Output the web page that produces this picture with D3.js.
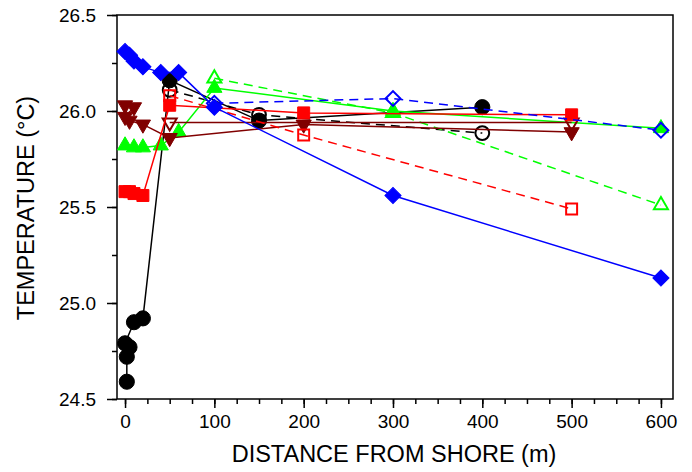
<!DOCTYPE html>
<html>
<head>
<meta charset="utf-8">
<script src="https://cdn.jsdelivr.net/npm/d3@7"></script>
<style>
	body { margin: 0; background: #fff; }
	text { font-family: "Liberation Sans", Arial, sans-serif; }
</style>
</head>
<body>
<div id="chart"></div>
<script>
// distance from shore (m) and temperature (C) for each transect
var blueFilledX = [0, 5, 10, 20, 40, 60, 100, 300, 600];
var blueFilledY = [26.31, 26.29, 26.26, 26.23, 26.20, 26.20, 26.02, 25.56, 25.13];
var blueOpenX = [100, 300, 600];
var blueOpenY = [26.04, 26.065, 25.90];

var blackFilledX = [2, 2, 5, 0, 10, 20, 50, 150, 400];
var blackFilledY = [24.59, 24.72, 24.77, 24.79, 24.90, 24.92, 26.16, 25.95, 26.02];
var blackOpenX = [50, 150, 400];
var blackOpenY = [26.11, 25.98, 25.885];

var redFilledX = [0, 5, 10, 20, 50, 200, 500];
var redFilledY = [25.58, 25.58, 25.57, 25.56, 26.03, 25.99, 25.98];
var redOpenX = [50, 200, 500];
var redOpenY = [26.08, 25.875, 25.49];

var greenFilledX = [0, 10, 20, 40, 60, 100, 300, 600];
var greenFilledY = [25.82, 25.81, 25.81, 25.82, 25.89, 26.12, 26.00, 25.91];
var greenOpenX = [100, 300, 600];
var greenOpenY = [26.17, 25.99, 25.51];

var brownFilledX = [0, 10, 0, 5, 20, 50, 200, 500];
var brownFilledY = [26.03, 26.02, 25.97, 25.95, 25.93, 25.86, 25.93, 25.89];
var brownOpenX = [50, 500];
var brownOpenY = [25.94, 25.94];

var xTicks = [0, 100, 200, 300, 400, 500, 600];
var yTicks = [24.5, 25.0, 25.5, 26.0, 26.5];

var series = [
	{x: blackOpenX, y: blackOpenY, color: "#000000", shape: "circle", open: true, dash: true},
	{x: blackFilledX, y: blackFilledY, color: "#000000", shape: "circle", open: false, dash: false},
	{x: greenFilledX, y: greenFilledY, color: "#00ff00", shape: "triangle", open: false, dash: false},
	{x: greenOpenX, y: greenOpenY, color: "#00ff00", shape: "triangle", open: true, dash: true},
	{x: brownOpenX, y: brownOpenY, color: "#800000", shape: "down", open: true, dash: false},
	{x: brownFilledX, y: brownFilledY, color: "#800000", shape: "down", open: false, dash: false},
	{x: redOpenX, y: redOpenY, color: "#ff0000", shape: "square", open: true, dash: true},
	{x: redFilledX, y: redFilledY, color: "#ff0000", shape: "square", open: false, dash: false},
	{x: blueOpenX, y: blueOpenY, color: "#0000ff", shape: "diamond", open: true, dash: true},
	{x: blueFilledX, y: blueFilledY, color: "#0000ff", shape: "diamond", open: false, dash: false}
];

var w = 692;
var h = 472;
var plotLeft = 117, plotRight = 673, plotTop = 15, plotBottom = 399;

var svg = d3.select("#chart")
			.append("svg")
			.attr("width", w)
			.attr("height", h);

var x = d3.scaleLinear().domain([-9, 613.5]).range([plotLeft, plotRight]);
var y = d3.scaleLinear().domain([24.5, 26.5]).range([plotBottom, plotTop]);

// frame
svg.append("rect")
	.attr("x", plotLeft)
	.attr("y", plotTop)
	.attr("width", plotRight - plotLeft)
	.attr("height", plotBottom - plotTop)
	.attr("fill", "none")
	.attr("stroke", "#000")
	.attr("stroke-width", 1.5);

// minor ticks
svg.append("g")
	.attr("transform", "translate(0," + plotBottom + ")")
	.call(d3.axisBottom(x).tickValues(d3.range(0, 601, 25)).tickSize(5).tickFormat(""));
svg.append("g")
	.attr("transform", "translate(" + plotLeft + ",0)")
	.call(d3.axisLeft(y).tickValues(d3.range(24.5, 26.51, 0.25)).tickSize(5).tickFormat(""));

// major ticks + labels
svg.append("g")
	.attr("transform", "translate(0," + plotBottom + ")")
	.call(d3.axisBottom(x).tickValues(xTicks).tickSize(9).tickPadding(7).tickFormat(d3.format("d")));
svg.append("g")
	.attr("transform", "translate(" + plotLeft + ",0)")
	.call(d3.axisLeft(y).tickValues(yTicks).tickSize(10).tickPadding(11).tickFormat(d3.format(".1f")));

svg.selectAll(".domain").remove();
svg.selectAll(".tick line").attr("stroke", "#000").attr("stroke-width", 1.5);
svg.selectAll(".tick text")
	.attr("font-family", "Liberation Sans, Arial, sans-serif")
	.attr("font-size", 19)
	.attr("fill", "#000");

svg.append("text")
	.attr("x", 394)
	.attr("y", 462)
	.attr("text-anchor", "middle")
	.attr("font-size", 23.5)
	.text("DISTANCE FROM SHORE (m)");

svg.append("text")
	.attr("transform", "translate(34,208) rotate(-90)")
	.attr("text-anchor", "middle")
	.attr("font-size", 23.5)
	.text("TEMPERATURE (\u00b0C)");

function symbolFor(s) {
	if (s.shape == "circle") return d3.symbol().type(d3.symbolCircle).size(s.open ? 150 : 180);
	if (s.shape == "square") return d3.symbol().type(d3.symbolSquare).size(s.open ? 120 : 144);
	if (s.shape == "diamond") return d3.symbol().type(d3.symbolSquare).size(s.open ? 110 : 130);
	return d3.symbol().type(d3.symbolTriangle).size(s.open ? 85 : 100);
}

function rotFor(s) {
	if (s.shape == "diamond") return " rotate(45)";
	if (s.shape == "down") return " rotate(180)";
	return "";
}

var line = d3.line()
	.x(function(d) { return x(d[0]); })
	.y(function(d) { return y(d[1]); });

for (var i = 0; i < series.length; i++) {
	var s = series[i];
	var pts = s.x.map(function(v, j) { return [v, s.y[j]]; });

	svg.append("path")
		.datum(pts)
		.attr("d", line)
		.attr("fill", "none")
		.attr("stroke", s.color)
		.attr("stroke-width", 1.5)
		.attr("stroke-dasharray", s.dash ? "9,6" : null);

	svg.append("g")
		.selectAll("path")
		.data(pts)
		.enter()
		.append("path")
		.attr("d", symbolFor(s))
		.attr("transform", function(d) {
			return "translate(" + x(d[0]) + "," + y(d[1]) + ")" + rotFor(s);
		})
		.attr("fill", s.open ? "none" : s.color)
		.attr("stroke", s.color)
		.attr("stroke-width", s.open ? 2 : 1);
}
</script>
</body>
</html>
